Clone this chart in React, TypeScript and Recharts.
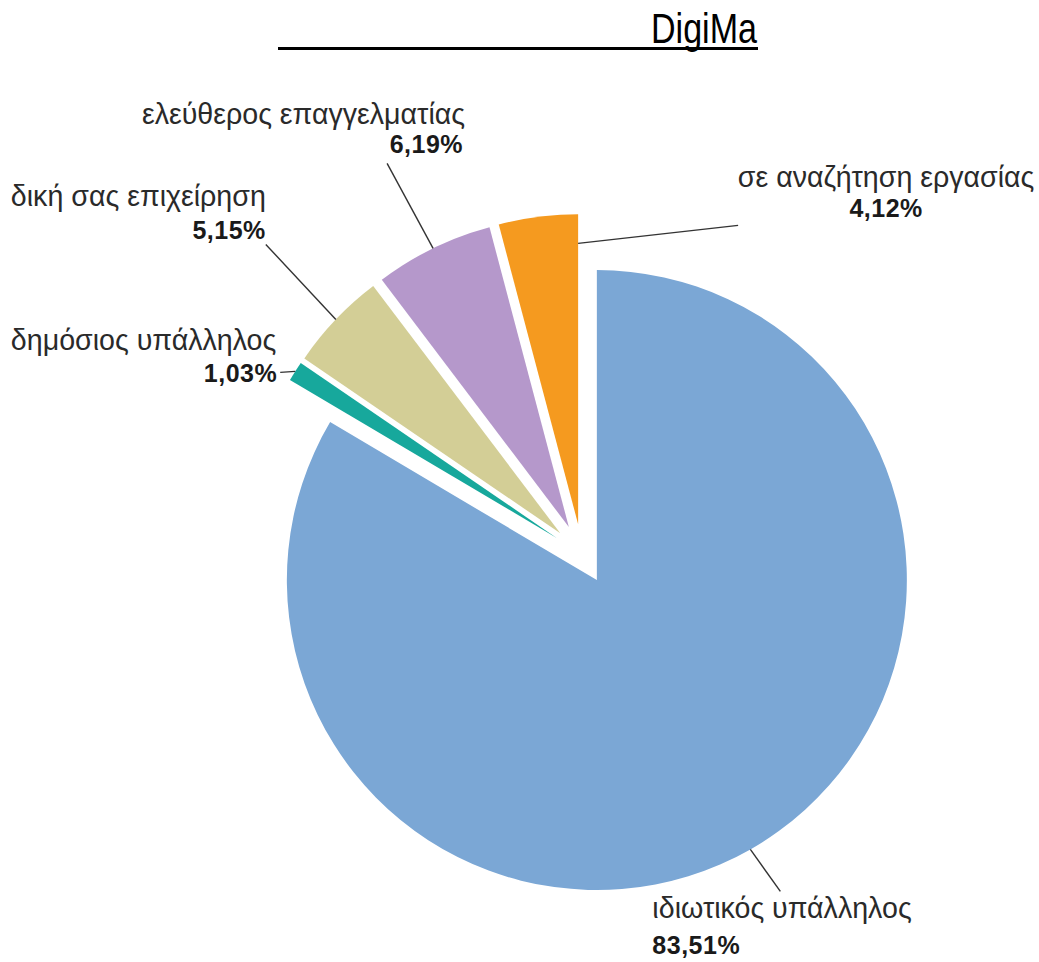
import React from 'react';
import { PieChart, Pie, Cell } from 'recharts';

const categories = [
  'ιδιωτικός υπάλληλος',
  'δημόσιος υπάλληλος',
  'δική σας επιχείρηση',
  'ελεύθερος επαγγελματίας',
  'σε αναζήτηση εργασίας',
];
const values = [83.51, 1.03, 5.15, 6.19, 4.12];
const percentLabels = ['83,51%', '1,03%', '5,15%', '6,19%', '4,12%'];
const colors = ['#7BA7D5', '#17A89C', '#D3CE96', '#B598CB', '#F59A1F'];
const title = 'DigiMa';

const data = categories.map((name, i) => ({ name, value: values[i], pct: percentLabels[i] }));

const RAD = Math.PI / 180;
const BASE = { x: 582, y: 554 };
const EXPLODE = 30;
const OUTER = 310;

const total = values.reduce((a, b) => a + b, 0);
let acc = 0;
const centers = values.map((v) => {
  const mid = ((acc + v / 2) / total) * 360;
  acc += v;
  return { x: BASE.x + EXPLODE * Math.sin(mid * RAD), y: BASE.y - EXPLODE * Math.cos(mid * RAD) };
});

// label layout: where the leader line starts on the slice, its vector, and text offsets from its end
const labelLayout = [
  { at: 'mid', r: 1, line: [30, 42], anchor: 'start', pctAnchor: 'start', name: [-128, 27], pct: [-128, 63] },
  { at: 'mid', r: 1, line: [-15, 1], anchor: 'end', pctAnchor: 'end', name: [-4, -22], pct: [-3, 10] },
  { at: 'mid', r: 1, line: [-70, -75], anchor: 'end', pctAnchor: 'end', name: [0, -38], pct: [0, -5] },
  { at: 'mid', r: 1, line: [-46, -85], anchor: 'end', pctAnchor: 'end', name: [78, -39], pct: [76, -10] },
  { at: 'end', r: 0.906, line: [160, -18], anchor: 'middle', pctAnchor: 'middle', name: [148, -38], pct: [148, -8] },
];

const FONT = '"Liberation Sans", Arial, sans-serif';

const makeLabel = (k: number) => (props: any) => {
  if (props.index !== k) return null;
  const L = labelLayout[k];
  const ang = L.at === 'mid' ? props.midAngle : props.endAngle;
  const r = props.outerRadius * L.r;
  const sx = props.cx + r * Math.cos(-ang * RAD);
  const sy = props.cy + r * Math.sin(-ang * RAD);
  const ex = sx + L.line[0];
  const ey = sy + L.line[1];
  return (
    <g>
      <line x1={sx} y1={sy} x2={ex} y2={ey} stroke="#333" strokeWidth={1.4} />
      <text x={ex + L.name[0]} y={ey + L.name[1]} textAnchor={L.anchor} fontFamily={FONT} fontSize={28.6} fill="#2a2a2a">
        {props.name}
      </text>
      <text
        x={ex + L.pct[0]}
        y={ey + L.pct[1]}
        textAnchor={L.pctAnchor}
        fontFamily={FONT}
        fontSize={25}
        letterSpacing={0.5}
        fontWeight="bold"
        fill="#1a1a1a"
      >
        {props.pct}
      </text>
    </g>
  );
};

export default function App() {
  return (
    <div style={{ position: 'absolute', left: 0, top: 0, width: 1039, height: 962, background: '#fff' }}>
      <svg width={1039} height={70} style={{ position: 'absolute', left: 0, top: 0 }}>
        <text
          x={651}
          y={43}
          textLength={106}
          lengthAdjust="spacingAndGlyphs"
          fontFamily='"Liberation Sans Narrow", "Arial Narrow", "Liberation Sans", sans-serif'
          fontSize={42}
          fill="#000"
        >
          {title}
        </text>
        <line x1={278} y1={48.5} x2={758} y2={48.5} stroke="#000" strokeWidth={3} />
      </svg>
      <div style={{ position: 'absolute', left: 0, top: 0 }}>
        <PieChart width={1039} height={962} margin={{ top: 0, right: 0, bottom: 0, left: 0 }}>
          {centers.map((c, k) => (
            <Pie
              key={k}
              data={data}
              dataKey="value"
              nameKey="name"
              cx={c.x}
              cy={c.y}
              startAngle={90}
              endAngle={-270}
              outerRadius={OUTER}
              innerRadius={0}
              stroke="none"
              isAnimationActive={false}
              labelLine={false}
              label={makeLabel(k)}
            >
              {data.map((_, i) => (
                <Cell key={i} fill={i === k ? colors[i] : 'none'} stroke="none" />
              ))}
            </Pie>
          ))}
        </PieChart>
      </div>
    </div>
  );
}
